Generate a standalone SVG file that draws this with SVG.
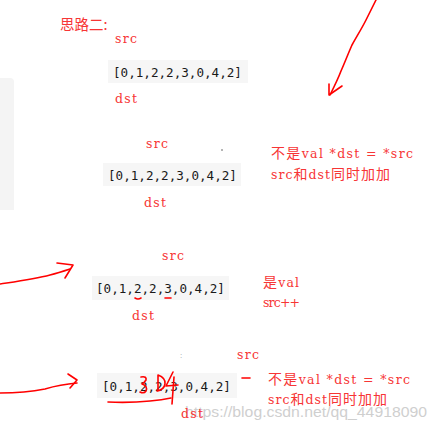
<svg xmlns="http://www.w3.org/2000/svg" width="436" height="430" viewBox="0 0 436 430">
<style>
.r{fill:#f73535;font-family:"DejaVu Serif","Noto Sans CJK SC",serif;font-size:12.5px}
.c{font-family:"Noto Sans CJK SC",sans-serif;font-size:14px}
.t{fill:#f73535;font-family:"Noto Sans CJK SC",sans-serif;font-size:14.5px}
.code{fill:#1a1a1a;font-family:"DejaVu Sans Mono","Liberation Mono",monospace;font-size:12.6px}
.box{fill:#f6f6f6}
.ink{fill:none;stroke:#f00;stroke-width:1.6;stroke-linecap:round;stroke-linejoin:round}
</style>
<rect width="436" height="430" fill="#fff"/>
<path d="M0 78 H10 Q14 78 14 82 V210 H0 Z" fill="#f4f4f4"/>
<text class="t" x="60" y="30">思路二:</text>

<g id="step1">
<text class="r" x="115" y="43" textLength="22">src</text>
<rect class="box" x="108" y="60" width="140" height="23"/>
<text class="code" x="113" y="77">[0,1,2,2,3,0,4,2]</text>
<text class="r" x="115" y="103" textLength="22">dst</text>
</g>

<g id="step2">
<text class="r" x="146" y="148" textLength="22">src</text>
<circle cx="222" cy="150" r="0.7" fill="#333"/>
<rect class="box" x="103" y="163" width="138" height="23"/>
<text class="code" x="108" y="180">[0,1,2,2,3,0,4,2]</text>
<text class="r" x="144" y="207" textLength="22">dst</text>
<text class="r" x="271" y="158" textLength="142"><tspan class="c">不是</tspan>val *dst = *src</text>
<text class="r" x="271" y="179" textLength="119">src<tspan class="c">和</tspan>dst<tspan class="c">同时加加</tspan></text>
</g>

<g id="step3">
<text class="r" x="162" y="260" textLength="22">src</text>
<rect class="box" x="92" y="276" width="137" height="24"/>
<text class="code" x="96" y="293">[0,1,2,2,3,0,4,2]</text>
<text class="r" x="132" y="320" textLength="22">dst</text>
<text class="r" x="263" y="287" textLength="36"><tspan class="c">是</tspan>val</text>
<text class="r" x="263" y="307" textLength="37">src++</text>
</g>

<g id="step4">
<text class="r" x="237" y="359" textLength="22">src</text>
<text x="180" y="358" fill="#999" font-family="Liberation Sans,sans-serif" font-size="8">:</text>
<rect class="box" x="97" y="373" width="140" height="25"/>
<text class="code" x="102" y="391">[0,1,2,2,3,0,4,2]</text>
<text x="185" y="417" fill="#cfcfcf" font-family="Liberation Sans,Arial,sans-serif" font-size="15" textLength="242" lengthAdjust="spacingAndGlyphs">https://blog.csdn.net/qq_44918090</text>
<text class="r" x="181" y="418" textLength="22">dst</text>
<text class="r" x="268" y="384" textLength="142"><tspan class="c">不是</tspan>val *dst = *src</text>
<text class="r" x="268" y="404" textLength="119">src<tspan class="c">和</tspan>dst<tspan class="c">同时加加</tspan></text>
</g>

<g id="connectors">
<path class="ink" d="M376 0 C372 8 369 14 366 20 C362 28 357 36 352 45 C348 54 345 62 341 71 C338 79 334 87 330 95"/>
<path class="ink" d="M329 84 L329 95 L342 86"/>
<path class="ink" d="M0 284 C20 281 35 279 50 275 C58 273 64 271 70 269"/>
<path class="ink" d="M57 263 L73 265 L65 278"/>
<path class="ink" d="M0 393 C15 393 30 392 45 389 C55 386 65 384 77 383"/>
<path class="ink" d="M68 374 L77 380 L70 388"/>
<path class="ink" d="M135 298 Q138 300 141 298" stroke-width="1.4"/>
<path class="ink" d="M165 298 L171 298" stroke-width="1.6"/>
<path class="ink" d="M141 377 Q147 376 146 380 Q144 383 142 384 Q148 386 146 391 Q144 394 140 392" stroke-width="1.2"/>
<path class="ink" d="M158 375 L158 391 M158 375 Q166 378 165 384 Q164 390 157 391" stroke-width="1.2"/>
<path class="ink" d="M173 372 L166 386 L178 385 M174 377 L172 404" stroke-width="1.2"/>
<path class="ink" d="M108 402 Q130 403 150 401 Q162 400 171 398" stroke-width="1.2"/>
<path class="ink" d="M242 378 L250 378" stroke-width="1.8"/>
</g>
</svg>
